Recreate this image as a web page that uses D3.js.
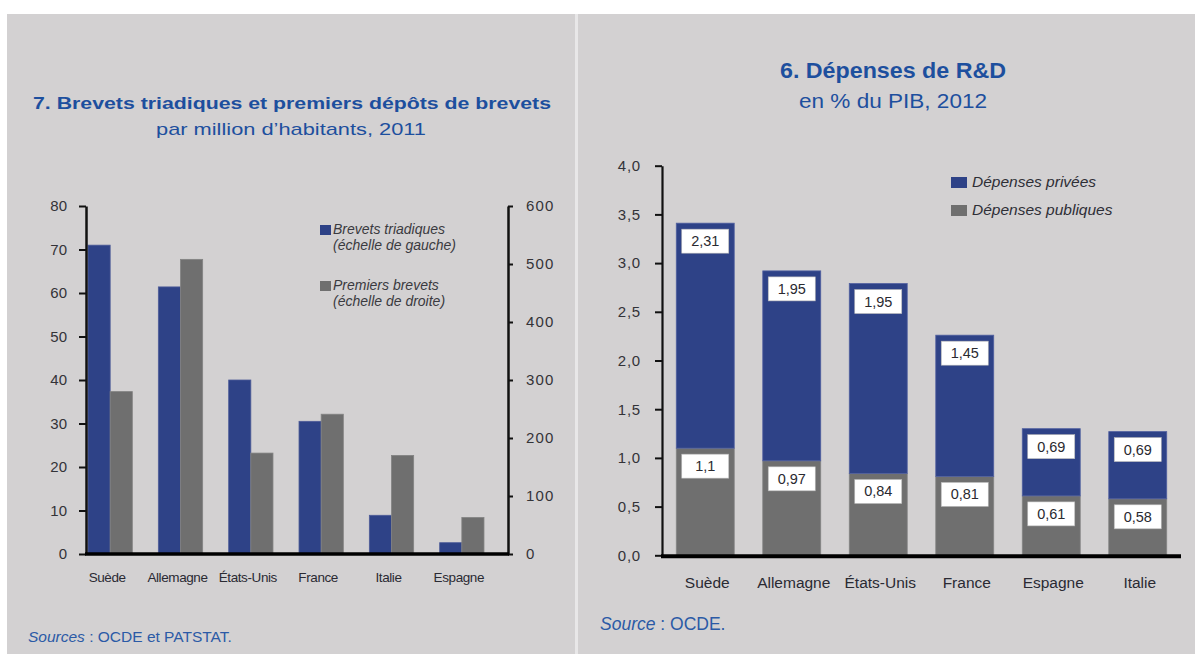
<!DOCTYPE html>
<html>
<head>
<meta charset="utf-8">
<script src="https://cdn.jsdelivr.net/npm/d3@7"></script>
<style>
  html, body { margin: 0; padding: 0; background: #ffffff; }
  svg { display: block; }
  text { font-family: "Liberation Sans", Arial, sans-serif; }
</style>
</head>
<body>
<svg id="chart" width="1195" height="654"></svg>
<script>
// ---------- Data: chart 7 (patents) ----------
const patentCategories = ["Suède", "Allemagne", "États-Unis", "France", "Italie", "Espagne"];
const triadicPatents = [71, 61.4, 40, 30.5, 8.9, 2.6];          // left scale
const firstFilings = [280, 508, 174, 241, 170, 63];               // right scale
const patentLeftTicks = [0, 10, 20, 30, 40, 50, 60, 70, 80];
const patentRightTicks = [0, 100, 200, 300, 400, 500, 600];
const patentSeries = ["Brevets triadiques", "Premiers brevets"];
const patentSeriesNotes = ["(échelle de gauche)", "(échelle de droite)"];

// ---------- Data: chart 6 (R&D) ----------
const rdCategories = ["Suède", "Allemagne", "États-Unis", "France", "Espagne", "Italie"];
const rdPublic = [1.1, 0.97, 0.84, 0.81, 0.61, 0.58];
const rdPrivate = [2.31, 1.95, 1.95, 1.45, 0.69, 0.69];
const rdTicks = [0, 0.5, 1, 1.5, 2, 2.5, 3, 3.5, 4];
const rdSeries = ["Dépenses privées", "Dépenses publiques"];

const BLUE = "#2e4287";
const GREY = "#6f6f6f";
const TITLE_BLUE = "#1d4f9e";
const PANEL = "#d3d1d2";
const TICK_TXT = "#333338";

const svg = d3.select("#chart");

// Panels
svg.append("rect").attr("x", 7).attr("y", 14).attr("width", 568).attr("height", 640).attr("fill", PANEL);
svg.append("rect").attr("x", 575).attr("y", 14).attr("width", 3).attr("height", 640).attr("fill", "#e8e7e8");
svg.append("rect").attr("x", 578).attr("y", 14).attr("width", 617).attr("height", 640).attr("fill", PANEL);

const comma = v => String(v).replace(".", ",");

// =============== LEFT CHART ===============
const gL = svg.append("g");
gL.append("text").attr("x", 292).attr("y", 109).attr("text-anchor", "middle")
  .attr("fill", TITLE_BLUE).attr("font-family", "Roboto, sans-serif").attr("font-weight", 700)
  .attr("font-size", 17).attr("textLength", 518).attr("lengthAdjust", "spacingAndGlyphs")
  .text("7. Brevets triadiques et premiers dépôts de brevets");
gL.append("text").attr("x", 291).attr("y", 135).attr("text-anchor", "middle")
  .attr("fill", TITLE_BLUE).attr("font-family", "Roboto, sans-serif")
  .attr("font-size", 17).attr("textLength", 270).attr("lengthAdjust", "spacingAndGlyphs")
  .text("par million d’habitants, 2011");

const xP = d3.scaleBand().domain(patentCategories).range([75, 497]).paddingInner(0.37).paddingOuter(0.185);
const yPL = d3.scaleLinear().domain([0, 80]).range([554, 206]);
const yPR = d3.scaleLinear().domain([0, 600]).range([554, 206]);
const half = xP.bandwidth() / 2;

gL.append("g").selectAll("rect").data(patentCategories).join("rect")
  .attr("x", d => xP(d)).attr("width", half)
  .attr("y", (d, i) => yPL(triadicPatents[i]))
  .attr("height", (d, i) => yPL(0) - yPL(triadicPatents[i]))
  .attr("fill", BLUE).attr("stroke", "#4e5c98").attr("stroke-width", 0.8);
gL.append("g").selectAll("rect").data(patentCategories).join("rect")
  .attr("x", d => xP(d) + half).attr("width", half)
  .attr("y", (d, i) => yPR(firstFilings[i]))
  .attr("height", (d, i) => yPR(0) - yPR(firstFilings[i]))
  .attr("fill", GREY).attr("stroke", "#838383").attr("stroke-width", 0.8);

// axes
const axL = gL.append("g").attr("transform", "translate(86,0)")
  .call(d3.axisLeft(yPL).tickValues(patentLeftTicks).tickSize(7).tickSizeOuter(0).tickPadding(12));
const axR = gL.append("g").attr("transform", "translate(508,0)")
  .call(d3.axisRight(yPR).tickValues(patentRightTicks).tickSize(5).tickSizeOuter(0).tickPadding(13));
[axL, axR].forEach(ax => {
  ax.select(".domain").attr("stroke", "#111").attr("stroke-width", 2.5);
  ax.selectAll(".tick line").attr("stroke", "#111").attr("stroke-width", 2);
  ax.selectAll(".tick text").attr("fill", TICK_TXT).attr("font-size", 15)
    .attr("font-family", "Liberation Sans, Arial, sans-serif");
});
axR.selectAll(".tick text").attr("letter-spacing", 1.2);
gL.append("line").attr("x1", xP.range()[0] + 10).attr("x2", 509)
  .attr("y1", yPL(0)).attr("y2", yPL(0)).attr("stroke", "#000").attr("stroke-width", 3.5);

gL.append("g").selectAll("text").data(patentCategories).join("text")
  .attr("x", d => xP(d) + half - 3).attr("y", 582).attr("text-anchor", "middle")
  .attr("font-size", 13.5).attr("letter-spacing", -0.4).attr("fill", "#2a2a33").text(d => d);

// legend
const legL = gL.append("g");
[0, 1].forEach(i => {
  const y0 = 225 + i * 56;
  legL.append("rect").attr("x", 320).attr("y", y0).attr("width", 11).attr("height", 10)
    .attr("fill", i === 0 ? BLUE : GREY);
  legL.append("text").attr("x", 333).attr("y", y0 + 9).attr("font-size", 14).attr("font-style", "italic")
    .attr("fill", "#3a3a40").text(patentSeries[i]);
  legL.append("text").attr("x", 333).attr("y", y0 + 25).attr("font-size", 14).attr("font-style", "italic")
    .attr("fill", "#3a3a40").text(patentSeriesNotes[i]);
});

const srcL = gL.append("text").attr("x", 28).attr("y", 642).attr("font-size", 15.5).attr("fill", "#2b5aa6");
srcL.append("tspan").attr("font-style", "italic").text("Sources");
srcL.append("tspan").text(" : OCDE et PATSTAT.");

// =============== RIGHT CHART ===============
const gR = svg.append("g");
gR.append("text").attr("x", 893).attr("y", 78).attr("text-anchor", "middle")
  .attr("fill", TITLE_BLUE).attr("font-family", "Roboto, sans-serif").attr("font-weight", 700)
  .attr("font-size", 22).attr("textLength", 226).attr("lengthAdjust", "spacingAndGlyphs")
  .text("6. Dépenses de R&D");
gR.append("text").attr("x", 893).attr("y", 108).attr("text-anchor", "middle")
  .attr("fill", TITLE_BLUE).attr("font-family", "Roboto, sans-serif")
  .attr("font-size", 20).attr("textLength", 188).attr("lengthAdjust", "spacingAndGlyphs")
  .text("en % du PIB, 2012");

const xR = d3.scaleBand().domain(rdCategories).range([662, 1181]).paddingInner(0.33).paddingOuter(0.165);
const yR = d3.scaleLinear().domain([0, 4]).range([555.3, 165.7]);

const rows = rdCategories.map((c, i) => ({ cat: c, pub: rdPublic[i], priv: rdPrivate[i] }));
const stacked = d3.stack().keys(["pub", "priv"])(rows);
const fills = { pub: GREY, priv: BLUE };
const strokes = { pub: "#848484", priv: "#5160a0" };

stacked.forEach(layer => {
  const k = layer.key;
  gR.append("g").selectAll("rect").data(layer).join("rect")
    .attr("x", d => xR(d.data.cat)).attr("width", xR.bandwidth())
    .attr("y", d => yR(d[1])).attr("height", d => yR(d[0]) - yR(d[1]))
    .attr("fill", fills[k]).attr("stroke", strokes[k]).attr("stroke-width", 0.8);
});

// value boxes
stacked.forEach(layer => {
  const k = layer.key;
  const g = gR.append("g").selectAll("g").data(layer).join("g")
    .attr("transform", d => `translate(${xR(d.data.cat) + xR.bandwidth() / 2},${yR(d[1]) + 6})`);
  g.append("rect").attr("x", -23.5).attr("y", 0).attr("width", 47).attr("height", 24)
    .attr("fill", "#ffffff").attr("stroke", "#b8b8b8").attr("stroke-width", 0.6);
  g.append("text").attr("x", 0).attr("y", 17).attr("text-anchor", "middle")
    .attr("font-size", 14.5).attr("fill", "#2a2a30").text(d => comma(d.data[k]));
});

const axRD = gR.append("g").attr("transform", "translate(662,0)")
  .call(d3.axisLeft(yR).tickValues(rdTicks).tickSize(7).tickSizeOuter(0).tickPadding(14)
    .tickFormat(d => d3.format(".1f")(d).replace(".", ",")));
axRD.select(".domain").attr("stroke", "#111").attr("stroke-width", 2.2);
axRD.selectAll(".tick line").attr("stroke", "#111").attr("stroke-width", 2);
axRD.selectAll(".tick text").attr("fill", TICK_TXT).attr("font-size", 15).attr("letter-spacing", 0.8)
  .attr("font-family", "Liberation Sans, Arial, sans-serif");
gR.append("line").attr("x1", 661).attr("x2", 1181).attr("y1", yR(0) + 1).attr("y2", yR(0) + 1)
  .attr("stroke", "#000").attr("stroke-width", 4);

gR.append("g").selectAll("text").data(rdCategories).join("text")
  .attr("x", d => xR(d) + xR.bandwidth() / 2 + 2).attr("y", 588).attr("text-anchor", "middle")
  .attr("font-size", 15.5).attr("fill", "#2a2a33").text(d => d);

// legend
[0, 1].forEach(i => {
  const y0 = 177 + i * 28;
  gR.append("rect").attr("x", 951).attr("y", y0).attr("width", 16).attr("height", 11)
    .attr("fill", i === 0 ? BLUE : GREY);
  gR.append("text").attr("x", 972).attr("y", y0 + 9.5).attr("font-size", 15.5).attr("font-style", "italic")
    .attr("fill", "#2e2e36").text(rdSeries[i]);
});

const srcR = gR.append("text").attr("x", 600).attr("y", 630).attr("font-size", 17.5).attr("fill", "#2b5aa6");
srcR.append("tspan").attr("font-style", "italic").text("Source");
srcR.append("tspan").text(" : OCDE.");
</script>
</body>
</html>
